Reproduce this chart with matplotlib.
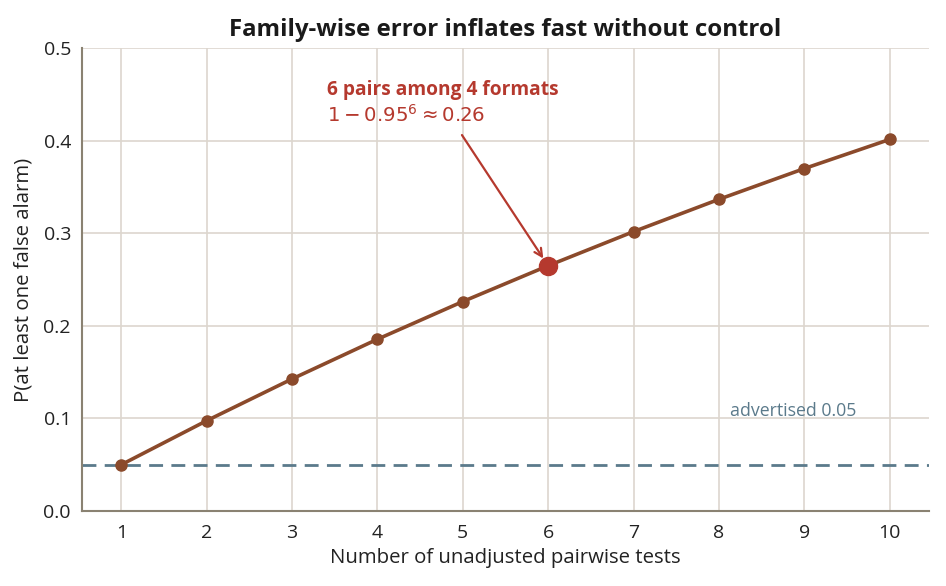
import matplotlib
matplotlib.use('Agg')

import matplotlib.pyplot as plt

# number of unadjusted pairwise tests and the chance of at least one false alarm
n_tests = [1, 2, 3, 4, 5, 6, 7, 8, 9, 10]
p_false_alarm = [0.050, 0.0975, 0.1426, 0.1855, 0.2262, 0.2649, 0.3017, 0.3366, 0.3698, 0.4013]
advertised_alpha = 0.05
highlight_n = 6
highlight_p = 0.2649

plt.rcParams['font.family'] = ['Open Sans', 'DejaVu Sans']

fig = plt.figure(figsize=(9.46, 5.86), dpi=100)
ax = fig.add_axes([82 / 946, 1 - 511 / 586, (929 - 82) / 946, (511 - 48) / 586])

line_c = '#8b4a2b'
red_c = '#b5392e'
ref_c = '#5b7a8b'
spine_c = '#8a8272'
grid_c = '#ddd6ce'

ax.axhline(advertised_alpha, color=ref_c, ls=(0, (5, 3)), lw=2, zorder=2)
ax.plot(n_tests, p_false_alarm, color=line_c, lw=2.6, marker='o', ms=8, zorder=3)
ax.plot([highlight_n], [highlight_p], 'o', color=red_c, ms=13, zorder=4)

ax.text(8.13, 0.108, 'advertised 0.05', color=ref_c, fontsize=12.8, ha='left', va='center')

ax.annotate('', xy=(highlight_n - 0.03, highlight_p + 0.004), xytext=(4.99, 0.406),
            arrowprops=dict(arrowstyle='->', color=red_c, lw=1.6, shrinkA=0, shrinkB=3,
                            mutation_scale=14), zorder=5)
ax.text(3.41, 0.455, '6 pairs among 4 formats', color=red_c, fontsize=13.8,
        fontweight='bold', ha='left', va='center')
ax.text(3.41, 0.427, r'$1 - 0.95^6 \approx 0.26$', color=red_c, fontsize=14.2,
        ha='left', va='center', math_fontfamily='dejavusans')

ax.set_xlim(0.54, 10.46)
ax.set_ylim(0, 0.5)
ax.set_xticks(n_tests)
ax.set_yticks([0, 0.1, 0.2, 0.3, 0.4, 0.5])
ax.set_yticklabels(['0.0', '0.1', '0.2', '0.3', '0.4', '0.5'])
ax.grid(True, color=grid_c, lw=1.2)
ax.set_axisbelow(True)

for side in ['top', 'right']:
    ax.spines[side].set_visible(False)
for side in ['left', 'bottom']:
    ax.spines[side].set_color(spine_c)
    ax.spines[side].set_linewidth(1.5)
ax.tick_params(colors='#222222', labelsize=14, length=0, pad=8)
ax.tick_params(axis='x', pad=9)

ax.set_xlabel('Number of unadjusted pairwise tests', fontsize=14.7, color='#222222', labelpad=5)
ax.set_ylabel('P(at least one false alarm)', fontsize=14.7, color='#222222', labelpad=7)
ax.set_title('Family-wise error inflates fast without control', fontsize=17.3,
             fontweight='bold', color='#1a1a1a', pad=9)

fig.savefig('out.png', dpi=100)
